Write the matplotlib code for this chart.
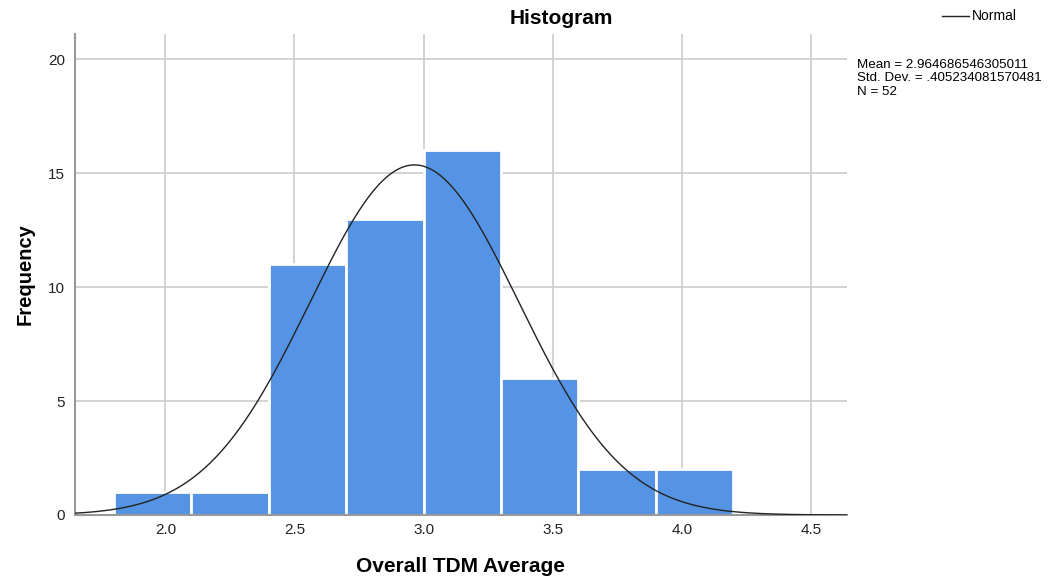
import numpy as np
import matplotlib
matplotlib.use("Agg")
import matplotlib.pyplot as plt

plt.rcParams['font.family'] = ['Liberation Sans', 'DejaVu Sans']

# histogram bins and counts
bin_edges = [1.8, 2.1, 2.4, 2.7, 3.0, 3.3, 3.6, 3.9, 4.2]
counts = [1, 1, 11, 13, 16, 6, 2, 2]
mean = 2.964686546305011
std = 0.405234081570481
n = 52

fig = plt.figure(figsize=(10.62, 5.78), dpi=100)
ax = fig.add_axes([75 / 1062, 1 - 515 / 578, (847 - 75) / 1062, (515 - 34) / 578])

lefts = np.array(bin_edges[:-1])
widths = np.diff(bin_edges)
ax.bar(lefts, counts, width=widths, align='edge', color='#5594E4',
       edgecolor='white', linewidth=2, zorder=2)

# normal curve scaled to counts
xs = np.linspace(1.65, 4.64, 400)
bw = widths[0]
ys = n * bw * np.exp(-0.5 * ((xs - mean) / std) ** 2) / (std * np.sqrt(2 * np.pi))
ax.plot(xs, ys, color='#222222', linewidth=1.0, zorder=3)

ax.set_xlim(1.65, 4.64)
ax.set_ylim(0, 21.1)
ax.set_xticks([2.0, 2.5, 3.0, 3.5, 4.0, 4.5])
ax.set_xticklabels(['2.0', '2.5', '3.0', '3.5', '4.0', '4.5'])
ax.set_yticks([0, 5, 10, 15, 20])
ax.grid(True, color='#cccccc', linewidth=1.2, zorder=0)
ax.set_axisbelow(True)
for s in ['top', 'right']:
    ax.spines[s].set_visible(False)
for s in ['left', 'bottom']:
    ax.spines[s].set_color('#999999')
    ax.spines[s].set_linewidth(1.5)
ax.tick_params(length=0, labelsize=11, colors='#222222')
ax.tick_params(axis='x', pad=6)
ax.tick_params(axis='y', pad=7)

ax.set_xlabel('Overall TDM Average', fontsize=15, fontweight='bold', labelpad=14)
ax.set_ylabel('Frequency', fontsize=14.5, fontweight='bold', labelpad=10)

fig.text(561 / 1062, 1 - 18 / 578, 'Histogram', fontsize=15, fontweight='bold',
         ha='center', va='center')

# legend
fig.add_artist(plt.Line2D([942 / 1062, 969 / 1062], [1 - 16 / 578, 1 - 16 / 578],
                          color='#222222', linewidth=1.0))
fig.text(972 / 1062, 1 - 16 / 578, 'Normal', fontsize=10, ha='left', va='center')
fig.text(857 / 1062, 1 - 59 / 578,
         'Mean = 2.964686546305011\nStd. Dev. = .405234081570481\nN = 52',
         fontsize=9.6, ha='left', va='top', linespacing=1.15)

fig.savefig('out.png', dpi=100)
